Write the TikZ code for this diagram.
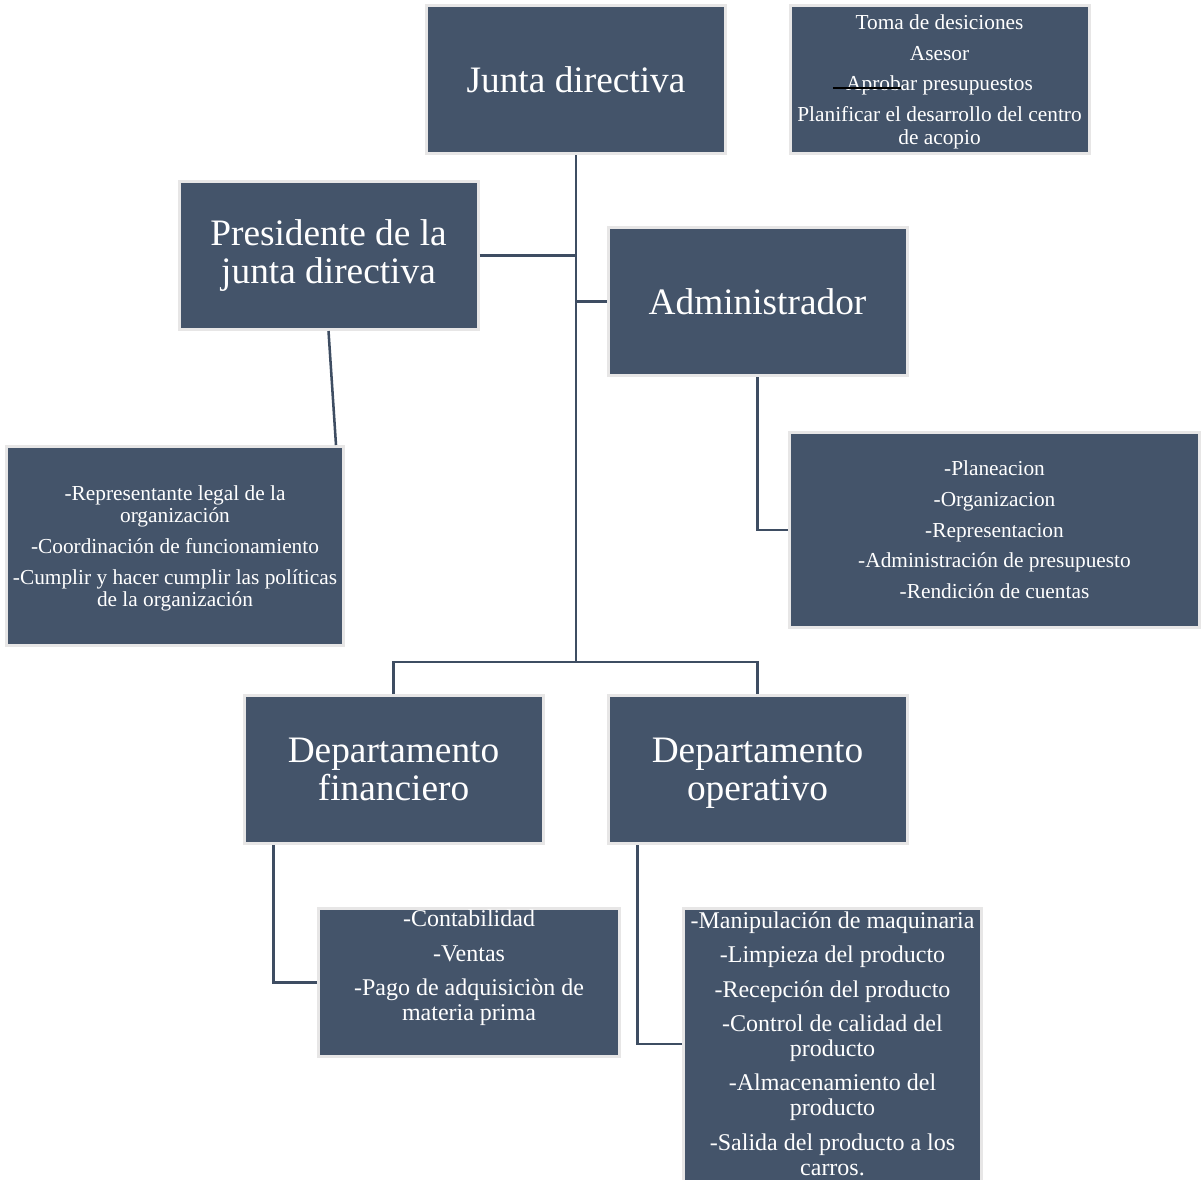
\documentclass[tikz,border=0pt]{standalone}
\usepackage{fontspec}
\setmainfont{Liberation Serif}
\usetikzlibrary{positioning, calc}
\definecolor{slate}{HTML}{44546A}
\definecolor{rimgray}{HTML}{E7E6E6}
\definecolor{linkslate}{HTML}{3E4D62}
% last line without descender depth
\newcommand{\flatline}[1]{\raisebox{0pt}[\height][0pt]{#1}}

\begin{document}
\begin{tikzpicture}[
  x=0.75pt, y=-0.75pt,
  orgbox/.style={rectangle, fill=slate, draw=rimgray, line width=2.25pt,
                 text=white, align=center, inner sep=2pt,
                 minimum width=224.25pt, minimum height=111pt,
                 font=\fontsize{28}{28.5}\selectfont},
  listbox/.style={orgbox, font=\fontsize{16}{17}\selectfont},
  biglist/.style={orgbox, font=\fontsize{18}{18.75}\selectfont},
  listtext/.style={text=white, align=center, inner sep=0pt,
                   font=\fontsize{18}{18.75}\selectfont},
  link/.style={draw=linkslate, line width=1.9pt},
]

% Background
\fill[white] (0,0) rectangle (1203,1179);
\useasboundingbox (0,0) rectangle (1203,1179);

% ============ Top level ============
\node[orgbox] (junta) at (576,79.5) {Junta directiva};
\node[listbox] (funciones) at (939.5,79.5) {%
  Toma de desiciones\\[6pt]
  Asesor\\[6pt]
  Aprobar presupuestos\\[6pt]
  Planificar el desarrollo del centro\\
  \flatline{de acopio}};
% stroke over the third line
\draw[black, line width=1.5pt] (833,88) -- (901,88);

% ============ Presidente / Administrador ============
\node[orgbox] (presidente) at (328.5,255.5) {Presidente de la\\junta directiva};
\node[orgbox] (admin) at (757.5,301.5) {Administrador};

\node[listbox, minimum width=252.75pt, minimum height=149.25pt] (preslist) at (175,546) {%
  -Representante legal de la\\
  organización\\[6pt]
  -Coordinación de funcionamiento\\[6pt]
  -Cumplir y hacer cumplir las políticas\\
  \flatline{de la organización}};

\node[listbox, minimum width=307.5pt, minimum height=146.25pt] (adminlist) at (994.5,530) {%
  -Planeacion\\[6pt]
  -Organizacion\\[6pt]
  -Representacion\\[6pt]
  -Administración de presupuesto\\[6pt]
  -Rendición de cuentas};

% ============ Departamentos ============
\node[orgbox] (depfin) at (393.5,769.5) {Departamento\\financiero};
\node[orgbox] (depop) at (757.5,769.5) {Departamento\\\flatline{operativo}};

\node[biglist, minimum width=225.75pt] (finlist) at (469,982.5) {};
\node[listtext] (fintext) at (469,968) {%
  -Contabilidad\\[7pt]
  -Ventas\\[7pt]
  -Pago de adquisiciòn de\\
  materia prima};

\node[biglist, minimum width=223.5pt, minimum height=207pt] (oplist) at (832.5,1046.5) {};
\node[listtext] (optext) at (832.5,1043.5) {%
  -Manipulación de maquinaria\\[7pt]
  -Limpieza del producto\\[7pt]
  -Recepción del producto\\[7pt]
  -Control de calidad del\\
  producto\\[7pt]
  -Almacenamiento del\\
  producto\\[7pt]
  -Salida del producto a los\\
  carros.};

% ============ Connectors ============
\coordinate (bar) at (576,662);
\draw[link] (junta.south) -- (bar);
\draw[link] (presidente.east) -- (presidente.east -| junta.south);
\draw[link] (admin.west -| junta.south) -- (admin.west);
\draw[link] (presidente.south) -- ($(preslist.north east)+(-9,0)$);
\draw[link] (admin.south) |- (adminlist.west);
\draw[link] (depfin.north) |- (bar) -| (depop.north);
\draw[link] ($(depfin.south west)+(31,0)$) |- (finlist.west);
\draw[link] ($(depop.south west)+(31,0)$) |- ($(oplist.west)+(0,-2.5)$);

\end{tikzpicture}
\end{document}
